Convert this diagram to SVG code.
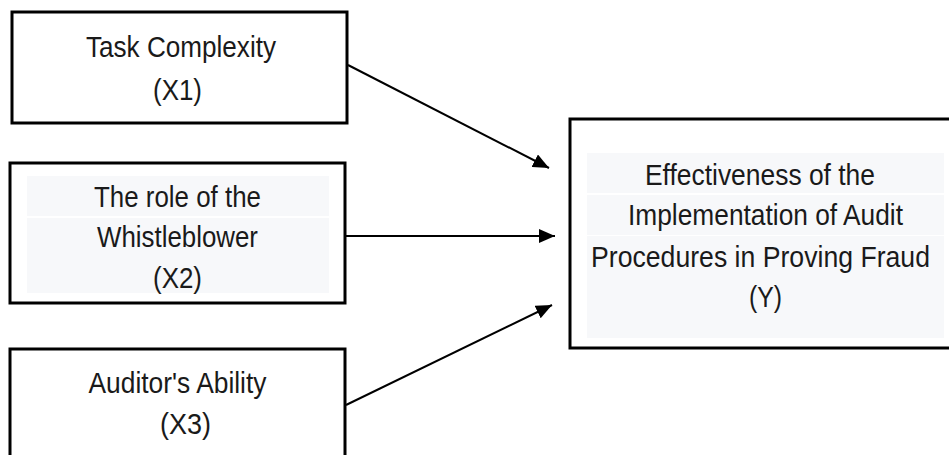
<svg xmlns="http://www.w3.org/2000/svg" width="949" height="455" viewBox="0 0 949 455">
<style>
.box{fill:#fff;stroke:#000;stroke-width:3}
.shade{fill:#f7f8fa}
.t{font-family:"Liberation Sans",Arial,sans-serif;font-size:29.5px;fill:#1a1a1a;text-anchor:middle}
.c{stroke:#000;stroke-width:2;fill:none}
</style>
<defs>
<marker id="ah" viewBox="0 0 10 10" refX="10" refY="5" markerWidth="16" markerHeight="14" markerUnits="userSpaceOnUse" orient="auto" preserveAspectRatio="none">
<path d="M0,0 L10,5 L0,10 z" fill="#000"/>
</marker>
</defs>
<rect width="949" height="455" fill="#fff"/>
<g id="x1">
<rect class="box" x="12" y="12" width="335" height="111"/>
<text class="t" x="181" y="57" textLength="190" lengthAdjust="spacingAndGlyphs">Task Complexity</text>
<text class="t" x="177.5" y="100" textLength="49" lengthAdjust="spacingAndGlyphs">(X1)</text>
</g>
<g id="x2">
<rect class="box" x="10" y="163" width="335" height="140"/>
<rect class="shade" x="27" y="176" width="302" height="40"/>
<rect class="shade" x="27" y="218" width="302" height="75"/>
<text class="t" x="177.5" y="207" textLength="167" lengthAdjust="spacingAndGlyphs">The role of the</text>
<text class="t" x="177.5" y="247" textLength="161" lengthAdjust="spacingAndGlyphs">Whistleblower</text>
<text class="t" x="177.5" y="288" textLength="49" lengthAdjust="spacingAndGlyphs">(X2)</text>
</g>
<g id="x3">
<rect class="box" x="10" y="349" width="335" height="120"/>
<text class="t" x="177.5" y="393" textLength="178" lengthAdjust="spacingAndGlyphs">Auditor's Ability</text>
<text class="t" x="185.5" y="434" textLength="51" lengthAdjust="spacingAndGlyphs">(X3)</text>
</g>
<g id="y">
<rect class="box" x="570" y="119" width="385" height="229"/>
<rect class="shade" x="587" y="153" width="357" height="40"/>
<rect class="shade" x="587" y="195" width="357" height="40"/>
<rect class="shade" x="587" y="236" width="357" height="102"/>
<text class="t" x="760" y="185" textLength="230" lengthAdjust="spacingAndGlyphs">Effectiveness of the</text>
<text class="t" x="765.5" y="225" textLength="275" lengthAdjust="spacingAndGlyphs">Implementation of Audit</text>
<text class="t" x="760.5" y="267" textLength="339" lengthAdjust="spacingAndGlyphs">Procedures in Proving Fraud</text>
<text class="t" x="765.5" y="307" textLength="33" lengthAdjust="spacingAndGlyphs">(Y)</text>
</g>
<g id="connectors">
<line class="c" x1="348" y1="65" x2="549" y2="168" marker-end="url(#ah)"/>
<line class="c" x1="346" y1="236" x2="555" y2="236" marker-end="url(#ah)"/>
<line class="c" x1="346" y1="405" x2="552" y2="305" marker-end="url(#ah)"/>
</g>
</svg>
